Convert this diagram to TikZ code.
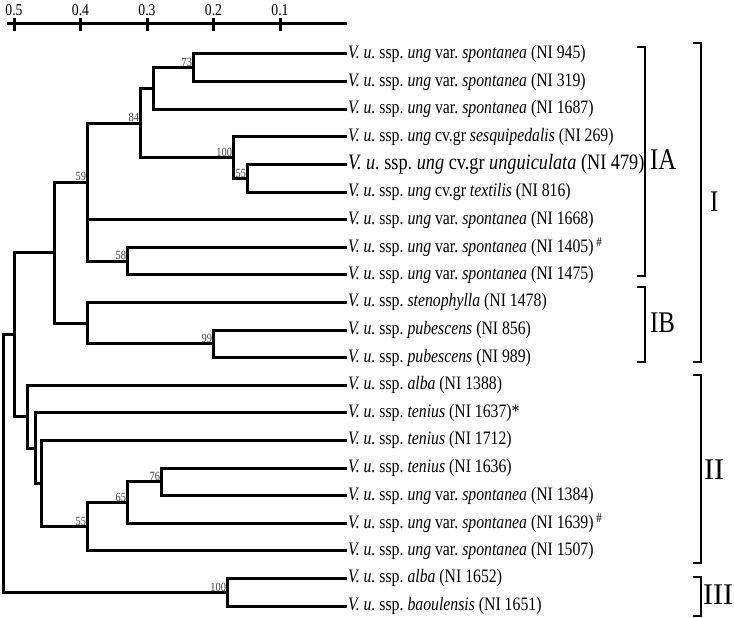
\documentclass[tikz,border=0pt]{standalone}
\usepackage{graphicx}
\usepackage{fontspec}
\setmainfont{Liberation Serif}
\frenchspacing
\tikzset{
  branch/.style={line width=3pt,line join=miter},
  taxon/.style={anchor=west,inner sep=1pt,font=\fontsize{19}{21}\selectfont},
  bigtaxon/.style={taxon,font=\fontsize{22}{24}\selectfont},
  boot/.style={anchor=south east,inner sep=0.8pt,font=\fontsize{12.5}{14}\selectfont,text=black!75},
  bracket/.style={line width=1.4pt},
  grp/.style={anchor=west,inner sep=0pt,font=\fontsize{30}{32}\selectfont},
  tick/.style={font=\fontsize{16.5}{18}\selectfont,inner sep=0pt},
}
\newcommand{\nar}[1]{\scalebox{0.83}[1]{#1}}
\newcommand{\vu}{\textit{V. u.} ssp.}
\newcommand{\spon}{\textit{ung} var. \textit{spontanea}}

\begin{document}
\begin{tikzpicture}[x=1pt,y=-1pt]
  \useasboundingbox (0,0) rectangle (734,618);

  % scale
  \draw[branch] (7,24) -- (347,24);
  \foreach \v/\x [count=\k] in {0.5/14,0.4/80.5,0.3/147,0.2/213.5,0.1/280} {
    \draw[line width=3pt] (\x,18) -- (\x,31);
    \node[tick] (sc\k) at (\x,10) {\nar{\v}};
  }

  % taxa
  \node[taxon] (l1)  at (347,54)    {\nar{\vu\ \spon\ (NI 945)}};
  \node[taxon] (l2)  at (347,81.6)  {\nar{\vu\ \spon\ (NI 319)}};
  \node[taxon] (l3)  at (347,109.2) {\nar{\vu\ \spon\ (NI 1687)}};
  \node[taxon] (l4)  at (347,136.8) {\nar{\vu\ \textit{ung} cv.gr \textit{sesquipedalis} (NI 269)}};
  \node[bigtaxon] (l5) at (347,164.4) {\nar{\vu\ \textit{ung} cv.gr \textit{unguiculata} (NI 479)}};
  \node[taxon] (l6)  at (347,192)   {\nar{\vu\ \textit{ung} cv.gr \textit{textilis} (NI 816)}};
  \node[taxon] (l7)  at (347,219.6) {\nar{\vu\ \spon\ (NI 1668)}};
  \node[taxon] (l8)  at (347,247.2) {\nar{\vu\ \spon\ (NI 1405)\,\textsuperscript{\#}}};
  \node[taxon] (l9)  at (347,274.8) {\nar{\vu\ \spon\ (NI 1475)}};
  \node[taxon] (l10) at (347,302.4) {\nar{\vu\ \textit{stenophylla} (NI 1478)}};
  \node[taxon] (l11) at (347,330)   {\nar{\vu\ \textit{pubescens} (NI 856)}};
  \node[taxon] (l12) at (347,357.6) {\nar{\vu\ \textit{pubescens} (NI 989)}};
  \node[taxon] (l13) at (347,385.2) {\nar{\vu\ \textit{alba} (NI 1388)}};
  \node[taxon] (l14) at (347,412.8) {\nar{\vu\ \textit{tenius} (NI 1637)*}};
  \node[taxon] (l15) at (347,440.4) {\nar{\vu\ \textit{tenius} (NI 1712)}};
  \node[taxon] (l16) at (347,468)   {\nar{\vu\ \textit{tenius} (NI 1636)}};
  \node[taxon] (l17) at (347,495.6) {\nar{\vu\ \spon\ (NI 1384)}};
  \node[taxon] (l18) at (347,523.2) {\nar{\vu\ \spon\ (NI 1639)\,\textsuperscript{\#}}};
  \node[taxon] (l19) at (347,550.8) {\nar{\vu\ \spon\ (NI 1507)}};
  \node[taxon] (l20) at (347,578.4) {\nar{\vu\ \textit{alba} (NI 1652)}};
  \node[taxon] (l21) at (347,606)   {\nar{\vu\ \textit{baoulensis} (NI 1651)}};

  % internal nodes
  \coordinate (b73)  at (193,67.8);
  \coordinate (u1)   at (153,88.5);
  \coordinate (b55a) at (247,178.2);
  \coordinate (b100) at (233,157.5);
  \coordinate (b84)  at (140,123);
  \coordinate (b58)  at (127,261);
  \coordinate (b59)  at (87,182);
  \coordinate (b99)  at (213,343.8);
  \coordinate (u3)   at (87,323.1);
  \coordinate (u2)   at (54,252.5);
  \coordinate (b76)  at (161,481.8);
  \coordinate (b65)  at (127,502.5);
  \coordinate (b55b) at (87,526.6);
  \coordinate (u8)   at (41,483.5);
  \coordinate (u7)   at (35,448.2);
  \coordinate (u6)   at (27,416.7);
  \coordinate (u4)   at (14,334.6);
  \coordinate (b100b) at (227,592.2);
  \coordinate (root) at (3,463.4);

  % branches
  \draw[branch] (l1.west) -| (b73) |- (l2.west);
  \draw[branch] (b73) -| (u1) |- (l3.west);
  \draw[branch] (l5.west) -| (b55a) |- (l6.west);
  \draw[branch] (l4.west) -| (b100) |- (b55a);
  \draw[branch] (u1) -| (b84) |- (b100);
  \draw[branch] (l8.west) -| (b58) |- (l9.west);
  \draw[branch] (b84) -| (b59) |- (b58);
  \draw[branch] (l7.west) -- (l7.west -| b59);
  \draw[branch] (l11.west) -| (b99) |- (l12.west);
  \draw[branch] (l10.west) -| (u3) |- (b99);
  \draw[branch] (b59) -| (u2) |- (u3);
  \draw[branch] (l16.west) -| (b76) |- (l17.west);
  \draw[branch] (b76) -| (b65) |- (l18.west);
  \draw[branch] (b65) -| (b55b) |- (l19.west);
  \draw[branch] (l15.west) -| (u8) |- (b55b);
  \draw[branch] (l14.west) -| (u7) |- (u8);
  \draw[branch] (l13.west) -| (u6) |- (u7);
  \draw[branch] (u2) -| (u4) |- (u6);
  \draw[branch] (l20.west) -| (b100b) |- (l21.west);
  \draw[branch] (u4) -| (root) |- (b100b);

  % bootstrap values
  \node[boot] (v73)  at (b73)  {\nar{73}};
  \node[boot] (v84)  at (b84)  {\nar{84}};
  \node[boot] (v100) at (b100) {\nar{100}};
  \node[boot] (v55a) at (b55a) {\nar{55}};
  \node[boot] (v59)  at (b59)  {\nar{59}};
  \node[boot] (v58)  at (b58)  {\nar{58}};
  \node[boot] (v99)  at (b99)  {\nar{99}};
  \node[boot] (v76)  at (b76)  {\nar{76}};
  \node[boot] (v65)  at (b65)  {\nar{65}};
  \node[boot] (v55b) at (b55b) {\nar{55}};
  \node[boot] (v100b) at (b100b) {\nar{100}};

  % groups
  \draw[bracket] (637,47) -| (645,276) -- (637,276);
  \node[grp] (gIA) at (650,160) {\nar{IA}};
  \draw[bracket] (637,287) -| (645,362) -- (637,362);
  \node[grp] (gIB) at (650,323) {\nar{IB}};
  \draw[bracket] (693,43) -| (701,362) -- (693,362);
  \node[grp] (gI) at (710,202) {\nar{I}};
  \draw[bracket] (693,375) -| (701,563) -- (693,563);
  \node[grp] (gII) at (704,470) {II};
  \draw[bracket] (693,577) -| (701,616) -- (693,616);
  \node[grp] (gIII) at (703,595) {III};
\end{tikzpicture}
\end{document}
